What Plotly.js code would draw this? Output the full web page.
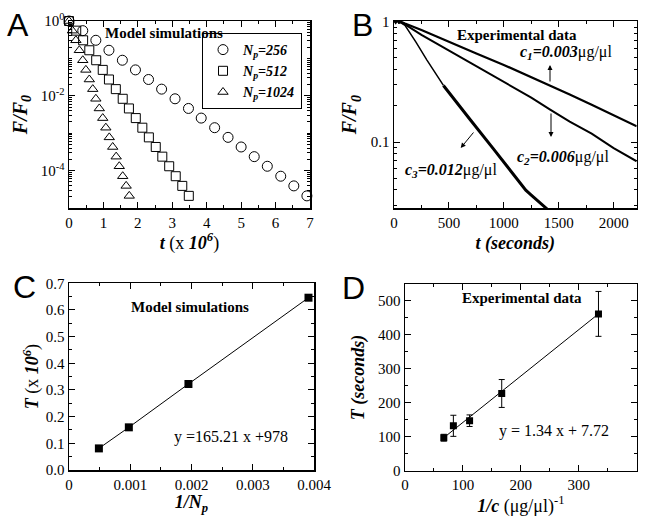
<!DOCTYPE html>
<html>
<head>
<meta charset="utf-8">
<script src="https://cdn.plot.ly/plotly-3.0.1.min.js"></script>
<style>html,body{margin:0;padding:0;background:#fff;}#chart{width:647px;height:517px;}</style>
</head>
<body>
<div id="chart"></div>
<script>
// ---------- Panel A: model simulations (F/F0 vs t, x 10^6) ----------
const tA256 = [0, 0.40, 0.78, 1.16, 1.55, 1.93, 2.31, 2.69, 3.08, 3.47, 3.84, 4.23, 4.62, 5.00, 5.38, 5.76, 6.15, 6.53, 6.91];
const tA512 = [0, 0.21, 0.41, 0.59, 0.79, 0.98, 1.16, 1.36, 1.56, 1.74, 1.94, 2.13, 2.32, 2.52, 2.71, 2.91, 3.10, 3.29, 3.48];
const tA1024 = [0, 0.10, 0.20, 0.30, 0.40, 0.49, 0.59, 0.69, 0.78, 0.88, 0.98, 1.07, 1.17, 1.27, 1.37, 1.46, 1.56, 1.66, 1.75];
const fA = [1, 0.552, 0.305, 0.165, 0.0893, 0.0493, 0.0273, 0.01507, 0.00832, 0.00459, 0.002535, 0.001403, 0.000774, 0.000428, 0.000236, 0.0001306, 0.0000708, 0.000039, 0.0000211];
const legendA = ['<b><i>N<sub>p</sub>=256</i></b>', '<b><i>N<sub>p</sub>=512</i></b>', '<b><i>N<sub>p</sub>=1024</i></b>'];
const tickValsA = [1, 0.01, 0.0001];
const tickTextA = ['10<sup>0</sup>', '10<sup>-2</sup>', '10<sup>-4</sup>'];

// ---------- Panel B: experimental data (F/F0 vs t, seconds) ----------
const tB1 = [0, 15, 30, 45, 60, 80, 100, 250, 500, 750, 1000, 1250, 1422, 1600, 1800, 2000, 2210];
const fB1 = [1.02, 0.98, 1.04, 0.99, 1.0, 0.98, 0.965, 0.851, 0.676, 0.543, 0.437, 0.347, 0.295, 0.248, 0.204, 0.166, 0.135];
const tB2 = [0, 15, 30, 45, 60, 80, 100, 250, 500, 750, 1000, 1250, 1422, 1600, 1800, 2000, 2210];
const fB2 = [1.03, 0.99, 1.02, 0.98, 0.99, 0.97, 0.95, 0.776, 0.575, 0.427, 0.316, 0.234, 0.186, 0.148, 0.1175, 0.0891, 0.0692];
const tB3a = [0, 15, 30, 45, 60, 100, 200, 300, 450];
const fB3a = [1.04, 1.0, 1.03, 0.97, 0.98, 0.933, 0.676, 0.479, 0.295];
const tB3b = [450, 600, 700, 900, 1100, 1200, 1250, 1300, 1350, 1400];
const fB3b = [0.295, 0.2, 0.151, 0.0891, 0.0513, 0.0398, 0.0363, 0.0331, 0.0302, 0.0275];
const tickValsB = [0.1, 1];
const tickTextB = ['0.1', '1'];

// ---------- Panel C: T vs 1/Np ----------
const invNp = [0.000488, 0.000977, 0.00195, 0.00391];
const tauC = [0.081, 0.160, 0.3225, 0.646];

// ---------- Panel D: T vs 1/c ----------
const invC = [67, 83.5, 111.5, 167, 334];
const tauD = [97, 132, 147, 227, 461];
const errD = [10, 31, 17, 41, 66];
const fitDx = [67, 334];
const fitDy = [97, 461];

// ---------- layout helpers (pixel geometry) ----------
const W = 647, H = 517;
const dx = (a, b) => [a / W, b / W];
const dy = (top, bot) => [1 - bot / H, 1 - top / H];
const px = x => x / W, py = y => 1 - y / H;

const serif = 'Liberation Serif, Times New Roman, serif';
const sans = 'Liberation Sans, Arial, sans-serif';
const tickFont = {family: serif, size: 15, color: '#000'};
const titleFont = {family: serif, size: 18, color: '#000'};

function ax(extra) {
  return Object.assign({
    showline: true, linecolor: '#000', linewidth: 1.5, mirror: 'ticks',
    ticks: 'inside', ticklen: 6, tickwidth: 1, tickcolor: '#000',
    showgrid: false, zeroline: false, tickfont: tickFont
  }, extra);
}

const traces = [
  {x: tA256, y: fA, xaxis: 'x', yaxis: 'y', mode: 'markers', name: legendA[0], cliponaxis: false,
   marker: {symbol: 'circle-open', size: 10, color: '#000', line: {width: 1, color: '#000'}}},
  {x: tA512, y: fA, xaxis: 'x', yaxis: 'y', mode: 'markers', name: legendA[1], cliponaxis: false,
   marker: {symbol: 'square-open', size: 9, color: '#000', line: {width: 1, color: '#000'}}},
  {x: tA1024, y: fA, xaxis: 'x', yaxis: 'y', mode: 'markers', name: legendA[2], cliponaxis: false,
   marker: {symbol: 'triangle-up-open', size: 9, color: '#000', line: {width: 1, color: '#000'}}},

  {x: tB1, y: fB1, xaxis: 'x2', yaxis: 'y2', mode: 'lines', showlegend: false, line: {color: '#000', width: 2.2}},
  {x: tB2, y: fB2, xaxis: 'x2', yaxis: 'y2', mode: 'lines', showlegend: false, line: {color: '#000', width: 2}},
  {x: tB3a, y: fB3a, xaxis: 'x2', yaxis: 'y2', mode: 'lines', showlegend: false, line: {color: '#000', width: 1.5}},
  {x: tB3b, y: fB3b, xaxis: 'x2', yaxis: 'y2', mode: 'lines', showlegend: false, line: {color: '#000', width: 3}},

  {x: invNp, y: tauC, xaxis: 'x3', yaxis: 'y3', mode: 'lines+markers', showlegend: false, cliponaxis: false,
   line: {color: '#000', width: 1}, marker: {symbol: 'square', size: 8, color: '#000'}},

  {x: fitDx, y: fitDy, xaxis: 'x4', yaxis: 'y4', mode: 'lines', showlegend: false, line: {color: '#000', width: 1}},
  {x: invC, y: tauD, xaxis: 'x4', yaxis: 'y4', mode: 'markers', showlegend: false,
   error_y: {type: 'data', array: errD, visible: true, color: '#000', thickness: 1, width: 3},
   marker: {symbol: 'square', size: 7, color: '#000'}}
];

const ann = (text, x, y, size, extra) => Object.assign({
  text: text, x: px(x), y: py(y), xref: 'paper', yref: 'paper', showarrow: false,
  font: {family: serif, size: size, color: '#000'}, xanchor: 'center', yanchor: 'middle'
}, extra || {});
const arrow = (hx, hy, axp, ayp) => ({
  text: '', x: px(hx), y: py(hy), xref: 'paper', yref: 'paper', showarrow: true,
  ax: axp, ay: ayp, arrowhead: 2, arrowsize: 1, arrowwidth: 1, arrowcolor: '#000'
});
const panel = (t, x, y) => ann(t, x, y, 32, {font: {family: sans, size: 32, color: '#000'}});

const layout = {
  width: W, height: H, margin: {l: 0, r: 0, t: 0, b: 0},
  paper_bgcolor: '#fff', plot_bgcolor: '#fff', showlegend: true,
  legend: {x: px(302), y: py(33), xanchor: 'right', yanchor: 'top', bordercolor: '#000', borderwidth: 1,
           bgcolor: '#fff', font: {family: serif, size: 14, color: '#000'}, itemwidth: 30, tracegroupgap: 0},
  xaxis: ax({domain: dx(69, 310), anchor: 'y', range: [0, 7], dtick: 1, minor: {dtick: 0.5, ticks: 'inside', ticklen: 3},
    title: {text: '<b><i>t</i></b> (x <b><i>10<sup>6</sup></i></b>)', font: titleFont, standoff: 6}}),
  yaxis: ax({domain: dy(21, 208), anchor: 'x', type: 'log', range: [-5, 0],
    tickmode: 'array', tickvals: tickValsA, ticktext: tickTextA,
    minor: {dtick: 'D1', ticks: 'inside', ticklen: 3},
    title: {text: '<b><i>F/F<sub>0</sub></i></b>', font: {family: serif, size: 20, color: '#000'}, standoff: 8}}),
  xaxis2: ax({domain: dx(394, 636.7), anchor: 'y2', range: [0, 2210], dtick: 500, minor: {dtick: 250, ticks: 'inside', ticklen: 3},
    title: {text: '<b><i>t (seconds)</i></b>', font: titleFont, standoff: 6}}),
  yaxis2: ax({domain: dy(21, 208.3), anchor: 'x2', type: 'log', range: [-1.55, 0.005],
    tickmode: 'array', tickvals: tickValsB, ticktext: tickTextB,
    minor: {dtick: 'D1', ticks: 'inside', ticklen: 3},
    title: {text: '<b><i>F/F<sub>0</sub></i></b>', font: {family: serif, size: 20, color: '#000'}, standoff: 8}}),
  xaxis3: ax({domain: dx(69, 314), anchor: 'y3', range: [0, 0.004], dtick: 0.001, minor: {dtick: 0.0005, ticks: 'inside', ticklen: 3},
    title: {text: '<b><i>1/N<sub>p</sub></i></b>', font: titleFont, standoff: 0}}),
  yaxis3: ax({domain: dy(283.3, 470), anchor: 'x3', range: [0, 0.7], dtick: 0.1, tickformat: '.1f', minor: {dtick: 0.05, ticks: 'inside', ticklen: 3},
    title: {text: '<b><i>T</i></b> (x <b><i>10<sup>6</sup></i></b>)', font: titleFont, standoff: 2}}),
  xaxis4: ax({domain: dx(405, 636.7), anchor: 'y4', range: [0, 400], dtick: 100, minor: {dtick: 50, ticks: 'inside', ticklen: 3},
    title: {text: '<b><i>1/c</i></b> (μg/μl)<sup>-1</sup>', font: titleFont, standoff: 0}}),
  yaxis4: ax({domain: dy(284.3, 470.7), anchor: 'x4', range: [0, 548], dtick: 100, minor: {dtick: 50, ticks: 'inside', ticklen: 3},
    title: {text: '<b><i>T (seconds)</i></b>', font: titleFont, standoff: 8}}),
  annotations: [
    panel('A', 18, 25), panel('B', 362, 25), panel('C', 24, 287), panel('D', 353, 288),
    ann('<b>Model simulations</b>', 164, 33, 15),
    ann('<b>Experimental data</b>', 517, 35, 15),
    ann('<b><i>c<sub>1</sub>=0.003</i></b>μg/μl', 566, 52, 16),
    ann('<b><i>c<sub>2</sub>=0.006</i></b>μg/μl', 563, 157, 16),
    ann('<b><i>c<sub>3</sub>=0.012</i></b>μg/μl', 451, 171, 16),
    arrow(550, 65, 0, 18), arrow(551, 137, 0, -25), arrow(460.7, 148, 14, -17),
    ann('<b>Model simulations</b>', 190, 307, 15),
    ann('y =165.21 x +978', 231, 437, 16),
    ann('<b>Experimental data</b>', 522, 298, 15),
    ann('y = 1.34 x + 7.72', 554, 431, 16)
  ]
};

Plotly.newPlot('chart', traces, layout, {staticPlot: true, displayModeBar: false});
</script>
</body>
</html>
